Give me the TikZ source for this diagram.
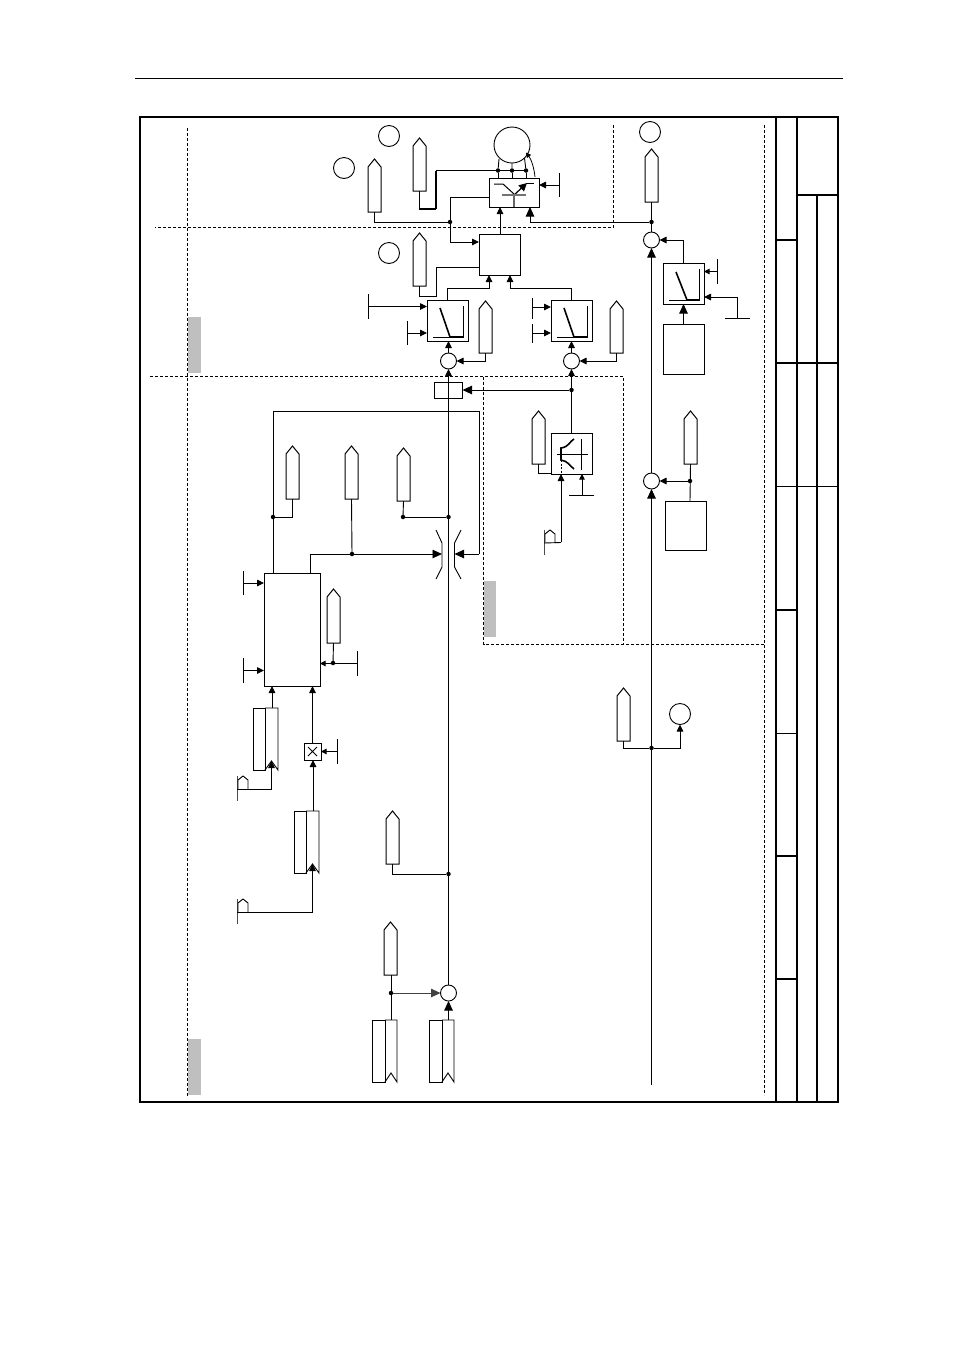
\documentclass[tikz,border=0pt]{standalone}
\usetikzlibrary{arrows.meta,calc}
\tikzset{
  wire/.style={line width=0.9pt},
  arr/.style={wire,-{Triangle[length=7pt,width=6.5pt]}},
  barr/.style={wire,-{Triangle[length=9.5pt,width=8.5pt]}},
  sarr/.style={wire,-{Triangle[length=5.5pt,width=5.5pt]}},
  blk/.style={draw,rectangle,line width=0.9pt,inner sep=0pt,outer sep=0pt},
  sumj/.style={draw,circle,line width=0.9pt,minimum size=16pt,inner sep=0pt,outer sep=0pt,fill=white},
  refc/.style={draw,circle,line width=0.9pt,minimum size=21pt,inner sep=0pt,outer sep=0pt},
  motorc/.style={draw,circle,line width=0.9pt,minimum size=36pt,inner sep=0pt,outer sep=0pt},
  dot/.style={circle,fill=black,minimum size=4.5pt,inner sep=0pt,outer sep=0pt},
  zone/.style={line width=0.8pt,dash pattern=on 3pt off 2pt},
  frameb/.style={line width=1.8pt},
  shade/.style={fill=black!25,draw=none},
  curveb/.style={line width=1.6pt},
  holder/.style={rectangle,inner sep=0pt,outer sep=0pt}
}
% pentagonal signal tag: name, centre x, tip y, bottom y
\newcommand\sigtag[4]{%
  \node[holder,minimum width=13pt,minimum height={(#4-#3)*1pt}] (#1) at (#2,{(#3+#4)/2}) {};
  \draw[line width=1pt,fill=white] ({#2-6.5},#4) -- ({#2+6.5},#4) -- ({#2+6.5},{#3+8}) -- (#2,#3) -- ({#2-6.5},{#3+8}) -- cycle;}
% plain block: name, x1, y1, x2, y2
\newcommand\blockat[5]{%
  \node[blk,minimum width={(#4-#2)*1pt},minimum height={(#5-#3)*1pt}] (#1) at ({(#2+#4)/2},{(#3+#5)/2}) {};}
% vertical and horizontal end bars carrying a named mid point
\newcommand\stubv[4]{\draw[wire] (#2,#3) -- (#2,#4); \coordinate (#1) at (#2,{(#3+#4)/2});}
\newcommand\stubh[4]{\draw[wire] (#3,#2) -- (#4,#2); \coordinate (#1) at ({(#3+#4)/2},#2);}
% end bar with a small tag: name, bar x, top y
\newcommand\smalltag[3]{%
  \draw[wire,black!70] (#2,#3) -- (#2,{#3+25});
  \draw[wire] ({#2+1},{#3+13}) -- ({#2+1},{#3+4}) -- ({#2+6},#3) -- ({#2+11},{#3+4}) -- ({#2+11},{#3+13});
  \coordinate (#1) at (#2,{#3+13});}
% parameter data set with notched right column: name, x1, xdiv, x2, y1, y2
\newcommand\dataset[6]{%
  \node[holder,minimum width={(#4-#2)*1pt},minimum height={(#6-#5)*1pt}] (#1) at ({(#2+#4)/2},{(#5+#6)/2}) {};
  \draw[line width=0.9pt] (#2,#5) rectangle (#3,#6);
  \draw[line width=0.9pt] (#3,#5) -- (#4,#5) -- (#4,#6) -- ({(#3+#4)/2},{#6-9}) -- (#3,#6);
  \coordinate (#1n) at ({(#3+#4)/2},{#6-9});}
\begin{document}
\begin{tikzpicture}[x=1pt,y=-1pt]
\useasboundingbox (0,0) rectangle (954,1350);
\fill[white] (0,0) rectangle (954,1350);

% page rule and drawing frame
\draw[line width=0.8pt] (135,78.6) -- (843,78.6);
\draw[frameb] (140,117) rectangle (838,1102);
\foreach \xx in {776,797} \draw[frameb] (\xx,117) -- (\xx,1102);
\draw[frameb] (817,195) -- (817,1102);
\draw[frameb] (797,195) -- (838,195);
\draw[frameb] (776,363) -- (838,363);
\draw[line width=1pt] (776,486) -- (838,486);
\foreach \yy in {240,610,856,979} \draw[frameb] (776,\yy) -- (797,\yy);
\draw[line width=1pt] (776,733) -- (797,733);

% zone shading and boundaries
\fill[shade] (187.5,317) rectangle (201,373);
\fill[shade] (483.5,581) rectangle (496,637);
\fill[shade] (187.5,1039) rectangle (201,1095);
\draw[zone] (187.5,128) -- (187.5,1098);
\draw[zone] (764.5,125) -- (764.5,1095);
\draw[zone] (613.5,125) -- (613.5,227.8) -- (155,227.8);
\draw[zone] (150,376.6) -- (623.5,376.6) -- (623.5,644);
\draw[zone] (483.5,376.6) -- (483.5,644) -- (764.5,644);

% circled references and machine
\node[refc] (r1) at (389,136) {};
\node[refc] (r2) at (344,168) {};
\node[refc] (r3) at (389,253) {};
\node[refc] (r4) at (650,132) {};
\node[refc] (r5) at (680,714) {};
\node[motorc] (mot) at (512,145) {};

% summing points
\node[sumj] (s1) at (448.5,361) {};
\node[sumj] (s2) at (571.5,361) {};
\node[sumj] (s3) at (651.5,240) {};
\node[sumj] (s4) at (651.5,481) {};
\node[sumj] (s5) at (448.5,993) {};

% blocks
\blockat{pwr}{489}{178}{539}{207}
\blockat{mod}{479}{234}{520}{275}
\blockat{lima}{427}{300}{468}{341}
\blockat{limb}{551}{300}{592}{341}
\blockat{xfm}{434.5}{382}{462.5}{398}
\blockat{limc}{663}{263}{704}{304}
\blockat{supc}{663}{324}{704}{374}
\blockat{char}{551}{433}{592}{474}
\blockat{supd}{665}{501}{706.5}{550}
\blockat{ctl}{264}{573}{320}{686}
\blockat{mul}{304}{743}{321}{760}
\draw[line width=0.8pt] (308,747) -- (317,756) (317,747) -- (308,756);

% data sets
\dataset{da}{253}{265}{278}{708}{770}
\dataset{db}{294}{306}{319}{811}{873}
\dataset{dc}{372}{385}{397}{1020}{1082}
\dataset{dd}{429}{442}{454}{1020}{1082}

% signal tags
\sigtag{ta}{374.5}{159}{212}
\sigtag{tb}{419.5}{138}{191}
\sigtag{tc}{419.5}{233}{286}
\sigtag{td}{485.5}{301}{353}
\sigtag{te}{616.5}{301}{353}
\sigtag{tf}{651.5}{149}{202}
\sigtag{tg}{690.5}{411}{464}
\sigtag{th}{538.5}{411}{464}
\sigtag{ti}{292.5}{446}{499}
\sigtag{tj}{351.5}{446}{499}
\sigtag{tk}{403.5}{448}{501}
\sigtag{tl}{333.5}{589}{643}
\sigtag{tm}{392.5}{811}{864}
\sigtag{tn}{390.5}{922}{975}
\sigtag{to}{623.5}{688}{741}

% junctions
\node[dot] (j1) at (450,222) {};
\node[dot] (j2) at (498,170.5) {};
\node[dot] (j3) at (512,170.5) {};
\node[dot] (j4) at (526,170.5) {};
\node[dot] (j5) at (651.5,222) {};
\node[dot] (j6) at (571.5,390) {};
\node[dot] (j7) at (448.5,517) {};
\node[dot] (j8) at (403,517) {};
\node[dot] (j9) at (352,554) {};
\node[dot] (j10) at (273,517) {};
\node[dot] (j11) at (333,663) {};
\node[dot] (j12) at (448.5,874) {};
\node[dot] (j13) at (391,993) {};
\node[dot] (j14) at (690,481) {};
\node[dot] (j15) at (651.5,748) {};

% end bars
\stubv{e1}{559}{173}{197}
\stubv{e2}{368}{294}{319}
\stubv{e3}{407}{321}{345}
\stubv{e4}{532}{298}{319}
\stubv{e5}{532}{324}{343}
\stubv{e6}{717}{259}{284}
\stubh{e7}{318}{725}{750}
\coordinate (e7t) at (737,318);
\stubh{e8}{495}{569}{594}
\coordinate (e8t) at (582,495);
\stubv{e9}{243}{571}{595}
\stubv{e10}{243}{658}{683}
\stubv{e11}{357}{651}{676}
\stubv{e12}{337}{739}{764}
\smalltag{g1}{237}{776}
\smalltag{g2}{237}{899}
\smalltag{g3}{544}{530}

% power section wiring
\draw[wire] (374,212) |- (j1);
\draw[wire] (j1) |- (489,197);
\draw[arr] (j1) |- (479,242);
\draw[line width=1.5pt] (419.5,191) |- (436,209);
\draw[line width=1.5pt] (436,209) -- (436,170.5);
\draw[wire] (436,170.5) -- (j4);
\draw[arr] (500,234) -- (500,207);
\draw[wire] (419.5,286) |- (436,296) -- (436,267) -- (479,267);
\draw[wire] (j2) -- (498,178) (j3) -- (512,178) (j4) -- (526,178);
\draw[wire] (j2) -- (499,159) (j3) -- (512,163) (j4) -- (524.5,158);
\draw[line width=0.8pt,-{Triangle[length=5pt,width=5pt]}] (535,177) .. controls (534,167) and (531,159) .. (526,152.5);
\draw[arr] (e1) -- (pwr.east |- e1);
\draw[barr] (j5) -| (530,207);

% power section symbol
\draw[line width=1pt] (494,184) -- (503,184) -- (514,194);
\draw[line width=1pt] (526,183) -- (534,183);
\draw[line width=1.2pt,-{Triangle[length=8pt,width=8pt]}] (514,195) -- (527,183);
\draw[line width=2.2pt,black!55] (502,195) -- (526,195);
\draw[line width=1.4pt,black!60] (514,196) -- (514,207);

% limiting characteristics
\draw[arr] (lima.north) |- (489,288) -- (489,275);
\draw[arr] (limb.north) |- (510,288) -- (510,275);
\draw[arr] (e2) -- (lima.west |- e2);
\draw[arr] (e3) -- (lima.west |- e3);
\draw[arr] (532,307) -- (551,307);
\draw[arr] (532,333) -- (551,333);
\draw[arr] (s1.north) -- (lima.south -| s1.north);
\draw[arr] (s2.north) -- (limb.south);
\draw[arr] (td.south) |- (s1.east);
\draw[arr] (te.south) |- (s2.east);
\draw[arr] (xfm.north) -- (s1.south);
\draw[arr] (char.north) -- (s2.south);
\draw[barr] (j6) -- (xfm.east |- j6);
\foreach \dx in {0,124} {
  \draw[wire] ({463+\dx},306) -- ({463+\dx},337) -- ({433+\dx},337);
  \draw[curveb] ({440+\dx},308) -- ({450+\dx},337) -- ({463+\dx},337);
}
\draw[wire] (699,269) -- (699,300) -- (669,300);
\draw[curveb] (676,272) -- (687,300) -- (699,300);

% field-weakening characteristic
\draw[wire] (557,454) -- (588,454) (581,439) -- (581,470);
\draw[curveb] (574,439) .. controls (570,441) and (569,447) .. (561,448) -- (561,460) .. controls (568,461) and (570,466) .. (574,469);
\draw[wire,dash pattern=on 2pt off 1.5pt] (561,460) -- (561,474);
\draw[wire] (538.5,464) |- (551,473);
\draw[arr] (561,542) -- (561,474);
\draw[wire] (g3) -- (561,542.5);
\draw[sarr] (e8t) -- (582,474);

% main current path
\draw[barr] (448.5,1020) -- (s5.south);
\draw[wire] (s5.north) -- (xfm.north);
\draw[wire] (xfm.north) -- (xfm.south);
\draw[wire] (391,975) -- (391,1020);
\draw[barr,black!75] (j13) -- (s5.west);
\draw[wire] (392.5,864) |- (j12);
\draw[wire] (j7) -- (j8);
\draw[wire] (403.5,501) -- (j8);

% current limiter brackets
\draw[wire] (436,530) -- (442,543) -- (442,567) -- (436,579);
\draw[wire] (461,530) -- (454.5,543) -- (454.5,567) -- (461,579);
\coordinate (thl) at (442,554);
\coordinate (thr) at (454.5,554);
\draw[barr] (310,573) |- (j9) -- (thl);
\draw[wire] (tj.south) -- (j9);
\draw[wire] (273,573) -- (273,411) -- (479,411) -- (479,554);
\draw[barr] (479,554) -- (thr);
\draw[wire] (j10) -| (ti.south);

% controller inputs
\draw[arr] (e9) -- (ctl.west |- e9);
\draw[arr] (e10) -- (ctl.west |- e10);
\draw[sarr] (e11) -- (ctl.east |- e11);
\draw[wire] (tl.south) -- (j11);
\draw[arr] (272,708) -- (272,686);
\draw[arr] (mul.north) -- (ctl.south -| mul.north);
\draw[sarr] (e12) -- (mul.east);

% data set selection
\draw[arr] (313,811) -- (313,760);
\draw[arr] (g1) -| (dan);
\draw[arr] (g2) -| (dbn);

% speed channel
\draw[barr] (651.5,1085) -- (s4.south);
\draw[barr] (s4.north) -- (s3.south);
\draw[wire] (s3.north) -- (651.5,202);
\draw[arr] (j14) -- (s4.east);
\draw[wire] (supd.north -| j14) -- (690.5,464);
\draw[arr] (limc.north) |- (s3.east);
\draw[barr] (supc.north) -- (limc.south);
\draw[sarr] (e6) -- (limc.east |- e6);
\draw[arr] (e7t) |- (704,297);
\draw[wire] (623.5,741) |- (j15);
\draw[arr] (j15) -| (r5.south);
\end{tikzpicture}
\end{document}
